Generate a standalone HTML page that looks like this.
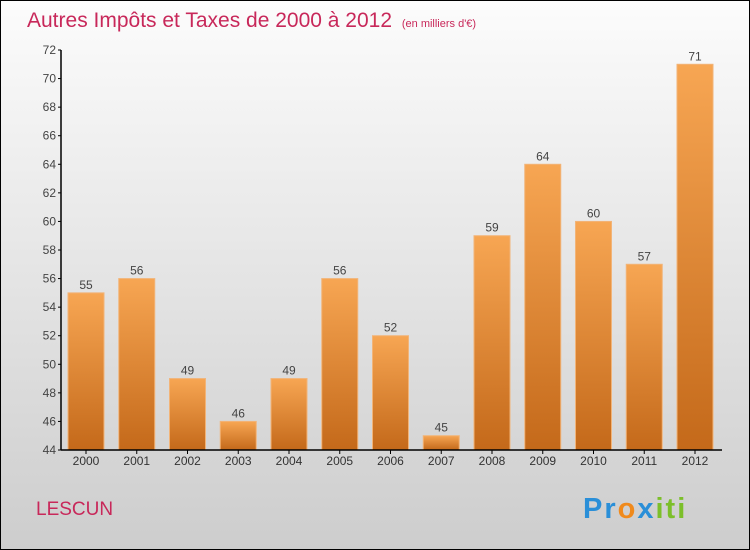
<!DOCTYPE html>
<html><head><meta charset="utf-8"><style>
body{margin:0;width:750px;height:550px;overflow:hidden}
svg{display:block;font-family:"Liberation Sans",sans-serif}
</style></head><body>
<svg id="c" width="750" height="550">
<defs>
<linearGradient id="bg" x1="0" y1="0" x2="0" y2="1"><stop offset="0" stop-color="#fcfcfc"/><stop offset="1" stop-color="#cdcdcd"/></linearGradient>
<linearGradient id="bar" x1="0" y1="0" x2="0" y2="1"><stop offset="0" stop-color="#f7a653"/><stop offset="1" stop-color="#c4691a"/></linearGradient>
</defs>
<rect x="0.5" y="0.5" width="749" height="549" fill="url(#bg)" stroke="#000"/>
<text x="27" y="27" font-size="21" fill="#c8285a">Autres Impôts et Taxes de 2000 à 2012 <tspan font-size="11" dx="4">(en milliers d'€)</tspan></text>
<text x="36" y="515" font-size="19" fill="#c8285a">LESCUN</text>
<text x="583" y="518" font-size="29" font-weight="bold" letter-spacing="2"><tspan fill="#2a8fd8">Pr</tspan><tspan fill="#f08a1c">o</tspan><tspan fill="#2a8fd8">x</tspan><tspan fill="#7cbf2a">iti</tspan></text>
<g id="g"></g>
</svg>
<script>
const categories=["2000","2001","2002","2003","2004","2005","2006","2007","2008","2009","2010","2011","2012"];
const values=[55,56,49,46,49,56,52,45,59,64,60,57,71];
const yTicks=[44,46,48,50,52,54,56,58,60,62,64,66,68,70,72];
const NS="http://www.w3.org/2000/svg",g=document.getElementById("g");
const x0=61,y0=450,yMin=44,yMax=72,ph=400,step=50.75,bw=36;
const y=v=>y0-(v-yMin)/(yMax-yMin)*ph;
const xc=i=>86+i*step;
function el(t,a){const e=document.createElementNS(NS,t);for(const k in a)e.setAttribute(k,a[k]);g.appendChild(e);return e;}
values.forEach((v,i)=>{
 const r=el("rect",{x:xc(i)-bw/2,y:y(v),width:bw,height:y0-y(v),fill:"url(#bar)",stroke:"#f2b478","stroke-width":1});
 
 
 const t=el("text",{x:xc(i),y:y(v)-4,"font-size":12,fill:"#444","text-anchor":"middle"});t.textContent=v;
 
 
 const c=el("text",{x:xc(i),y:465,"font-size":12,fill:"#333","text-anchor":"middle"});c.textContent=categories[i];
 
 
 el("line",{x1:xc(i),x2:xc(i),y1:y0,y2:y0+4,stroke:"#000"});
});
yTicks.forEach(v=>{
 el("line",{x1:x0-3,x2:x0,y1:y(v),y2:y(v),stroke:"#000"});
 const t=el("text",{x:x0-5,y:y(v)+4,"font-size":12,fill:"#444","text-anchor":"end"});t.textContent=v;
 
 
});
const ya=el("line",{x1:x0,x2:x0,y1:y(yMax),y2:y0,stroke:"#000","stroke-width":1.5});


const xa=el("line",{x1:x0,x2:722,y1:y0,y2:y0,stroke:"#000","stroke-width":1.5});


</script>
</body></html>
